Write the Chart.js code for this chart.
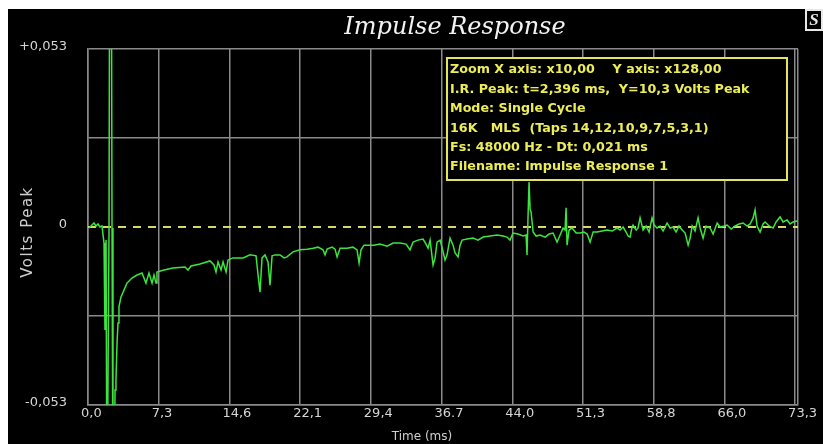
<!DOCTYPE html>
<html><head><meta charset="utf-8">
<script src="https://cdn.jsdelivr.net/npm/chart.js@4"></script>
<style>
html,body{margin:0;padding:0;background:#fff;}
#wrap{position:absolute;left:8px;top:9px;width:815px;height:435px;background:#000;}
canvas{display:block;}
</style></head><body>
<div id="wrap"><canvas id="c" width="815" height="435"></canvas></div>
<script>
const timeMs = [0.10,0.31,0.62,0.83,1.04,1.24,1.45,1.66,1.76,1.87,1.97,2.07,2.18,2.33,2.49,2.59,2.70,2.80,2.90,3.01,3.11,3.21,3.42,3.73,4.04,4.56,5.08,5.60,6.01,6.32,6.64,6.84,7.05,7.15,7.88,8.81,10.06,10.37,10.68,11.61,12.65,13.06,13.27,13.48,13.79,14.00,14.31,14.52,15.03,16.07,16.80,17.42,17.63,17.83,18.04,18.35,18.66,18.87,19.08,19.39,19.91,20.32,20.63,21.25,21.98,22.71,23.33,23.85,24.36,24.57,24.78,25.30,25.61,25.82,26.13,26.85,27.47,27.89,28.10,28.30,28.62,28.93,29.65,30.27,31.00,31.62,32.35,32.97,33.38,33.70,34.21,34.73,35.04,35.25,35.46,35.77,35.98,36.18,36.50,36.81,37.01,37.22,37.53,37.84,38.05,38.36,38.57,38.78,39.29,39.92,40.43,40.95,41.68,42.41,43.03,43.44,43.75,44.06,44.58,45.10,45.41,45.51,45.62,45.72,45.83,45.93,46.14,46.45,46.86,47.38,47.80,48.21,48.62,48.94,49.25,49.45,49.56,49.66,49.87,50.18,50.60,51.01,51.42,51.74,52.05,52.36,52.77,53.29,53.81,54.33,54.85,55.16,55.47,55.78,55.99,56.19,56.40,56.50,56.82,57.02,57.23,57.54,57.85,58.16,58.47,58.68,58.99,59.30,59.62,60.03,60.34,60.65,60.96,61.27,61.59,61.90,62.21,62.42,62.63,62.93,63.24,63.45,63.76,64.07,64.49,64.80,65.22,65.53,65.94,66.25,66.67,67.08,67.50,67.91,68.33,68.64,68.95,69.15,69.36,69.67,69.98,70.19,70.60,71.02,71.33,71.74,72.05,72.47,72.78,73.09,73.51];
const voltsPeak = [-0.0003,0.0003,0.0012,0.0003,0.0009,0.0000,0.0003,-0.0048,-0.0307,-0.0039,-0.0900,-0.0900,-0.0006,0.2000,-0.0003,-0.0900,-0.0900,-0.0485,-0.0456,-0.0345,-0.0286,-0.0238,-0.0208,-0.0188,-0.0167,-0.0152,-0.0143,-0.0137,-0.0167,-0.0137,-0.0167,-0.0143,-0.0167,-0.0134,-0.0128,-0.0122,-0.0119,-0.0128,-0.0116,-0.0110,-0.0101,-0.0113,-0.0134,-0.0104,-0.0128,-0.0104,-0.0134,-0.0098,-0.0092,-0.0092,-0.0083,-0.0086,-0.0143,-0.0194,-0.0092,-0.0083,-0.0104,-0.0173,-0.0086,-0.0083,-0.0083,-0.0092,-0.0089,-0.0074,-0.0068,-0.0066,-0.0063,-0.0060,-0.0068,-0.0083,-0.0066,-0.0060,-0.0066,-0.0089,-0.0063,-0.0063,-0.0060,-0.0068,-0.0107,-0.0068,-0.0054,-0.0054,-0.0054,-0.0051,-0.0057,-0.0048,-0.0048,-0.0051,-0.0068,-0.0045,-0.0039,-0.0036,-0.0051,-0.0063,-0.0039,-0.0113,-0.0092,-0.0045,-0.0039,-0.0074,-0.0098,-0.0083,-0.0033,-0.0054,-0.0077,-0.0089,-0.0054,-0.0039,-0.0036,-0.0033,-0.0039,-0.0030,-0.0027,-0.0024,-0.0027,-0.0030,-0.0039,-0.0018,-0.0021,-0.0027,-0.0024,-0.0083,0.0036,0.0134,0.0051,0.0045,-0.0015,-0.0027,-0.0024,-0.0030,-0.0021,-0.0018,-0.0045,-0.0024,-0.0003,-0.0009,0.0057,-0.0054,-0.0009,-0.0003,-0.0018,-0.0018,-0.0015,-0.0021,-0.0045,-0.0015,-0.0015,-0.0012,-0.0009,-0.0012,-0.0003,-0.0009,0.0000,-0.0015,-0.0027,-0.0030,0.0000,0.0006,-0.0009,-0.0003,0.0027,-0.0009,0.0003,-0.0015,0.0027,0.0006,-0.0003,0.0003,-0.0012,0.0012,-0.0003,0.0000,-0.0015,0.0003,-0.0009,-0.0018,-0.0054,-0.0033,0.0003,-0.0012,0.0027,-0.0003,-0.0033,0.0003,-0.0003,-0.0021,0.0012,0.0000,0.0003,0.0006,-0.0006,0.0003,0.0009,0.0012,0.0003,0.0009,0.0027,0.0051,0.0003,-0.0015,0.0009,0.0015,0.0003,-0.0003,0.0015,0.0030,0.0015,0.0021,0.0009,0.0015,0.0018];
const zeroLineX = [0, 73.6];
const zeroLineY = [0, 0];
const xTickValues = [0,7.33,14.66,21.99,29.32,36.65,43.98,51.31,58.64,65.97,73.3,73.6];
const xTickLabels = ['0,0','7,3','14,6','22,1','29,4','36.7','44,0','51,3','58,8','66,0','73,3',''];
const yTickValues = [-0.053,-0.0265,0,0.0265,0.053];
const yTickLabels = ['-0,053','','0','','+0,053'];
const chartTitle = 'Impulse Response';
const yAxisTitle = 'Volts Peak';
const xAxisTitle = 'Time (ms)';
const infoLines = [
  'Zoom X axis: x10,00    Y axis: x128,00',
  'I.R. Peak: t=2,396 ms,  Y=10,3 Volts Peak',
  'Mode: Single Cycle',
  '16K   MLS  (Taps 14,12,10,9,7,5,3,1)',
  'Fs: 48000 Hz - Dt: 0,021 ms',
  'Filename: Impulse Response 1'
];

const decor = {
  id: 'decor',
  afterDraw(chart) {
    const ctx = chart.ctx;
    ctx.save();
    // title
    ctx.fillStyle = '#f2f2f2';
    ctx.font = 'italic 24px "DejaVu Serif"';
    ctx.textAlign = 'center';
    ctx.textBaseline = 'middle';
    ctx.fillText(chartTitle, 447, 19);
    // y axis title
    ctx.save();
    ctx.translate(20, 223);
    ctx.rotate(-Math.PI / 2);
    ctx.font = '15px "DejaVu Sans"';
    ctx.letterSpacing = '1.5px';
    ctx.fillStyle = '#cfcfcf';
    ctx.fillText(yAxisTitle, 0, 0);
    ctx.restore();
    // x axis title
    ctx.font = '12px "DejaVu Sans"';
    ctx.fillStyle = '#cfcfcf';
    ctx.fillText(xAxisTitle, 414, 428);
    // info box
    ctx.fillStyle = '#000';
    ctx.fillRect(439, 49, 340, 122);
    ctx.strokeStyle = '#e4e455';
    ctx.lineWidth = 2;
    ctx.strokeRect(439, 49, 340, 122);
    ctx.fillStyle = '#eded5a';
    ctx.font = 'bold 12.7px "DejaVu Sans"';
    ctx.textAlign = 'left';
    infoLines.forEach((t, i) => ctx.fillText(t, 442, 61 + i * 19.4));
    // icon
    ctx.strokeStyle = '#e8e8e8';
    ctx.lineWidth = 2;
    ctx.strokeRect(798, 1, 16, 20);
    ctx.fillStyle = '#e8e8e8';
    ctx.font = 'bold italic 17px "Liberation Serif"';
    ctx.textAlign = 'center';
    ctx.fillText('S', 806, 12);
    ctx.restore();
  }
};

new Chart(document.getElementById('c'), {
  type: 'line',
  data: {
    datasets: [
      {
        data: timeMs.map((t, i) => ({x: t, y: voltsPeak[i]})),
        borderColor: '#3de43d',
        borderWidth: 1.5,
        pointRadius: 0,
        tension: 0
      },
      {
        data: zeroLineX.map((t, i) => ({x: t, y: zeroLineY[i]})),
        borderColor: '#d8d86a',
        borderWidth: 2,
        borderDash: [8, 7],
        pointRadius: 0
      }
    ]
  },
  options: {
    responsive: false,
    animation: false,
    devicePixelRatio: 1,
    layout: {padding: {left: 0, top: 40, right: 25, bottom: 0}},
    plugins: {legend: {display: false}, tooltip: {enabled: false}, title: {display: false}},
    scales: {
      x: {
        type: 'linear', min: 0, max: 73.6,
        afterBuildTicks: s => { s.ticks = xTickValues.map(v => ({value: v})); },
        afterFit: s => { s.height = 39; },
        grid: {color: '#8a8a8a', lineWidth: 1.5, drawTicks: false},
        border: {color: '#8a8a8a', width: 1.5},
        ticks: {
          autoSkip: false, maxRotation: 0, align: 'start', labelOffset: -7, padding: 1,
          color: '#d6d6d6', font: {family: 'DejaVu Sans', size: 13},
          callback: (v, i) => xTickLabels[i]
        }
      },
      y: {
        min: -0.053, max: 0.053,
        afterBuildTicks: s => { s.ticks = yTickValues.map(v => ({value: v})); },
        afterFit: s => { s.width = 80; },
        grid: {color: c => (c.tick && c.tick.value === 0) ? 'rgba(0,0,0,0)' : '#8a8a8a', lineWidth: 1.5, drawTicks: false},
        border: {color: '#8a8a8a', width: 1.5},
        ticks: {
          padding: 21, labelOffset: -2,
          color: '#d6d6d6', font: {family: 'DejaVu Sans', size: 13},
          callback: (v, i) => yTickLabels[i]
        }
      }
    }
  },
  plugins: [decor]
});
</script>
</body></html>
